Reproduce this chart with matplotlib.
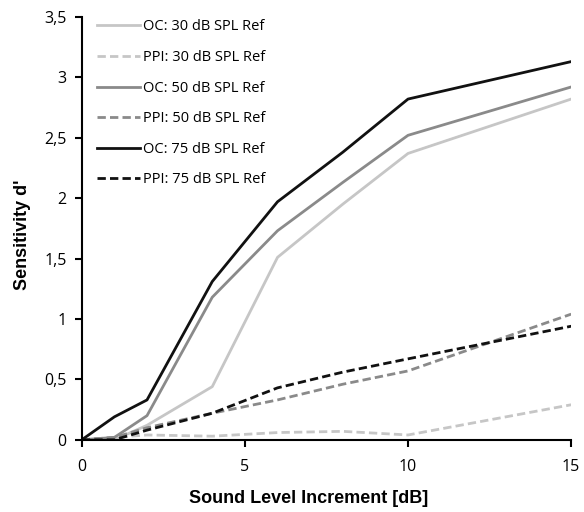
import matplotlib
matplotlib.use("Agg")
import matplotlib.pyplot as plt
from matplotlib.ticker import FuncFormatter

x = [0, 1, 2, 4, 6, 8, 10, 15]
oc30 = [0, 0.0, 0.12, 0.44, 1.51, 1.95, 2.37, 2.82]
ppi30 = [0, 0.02, 0.04, 0.03, 0.06, 0.07, 0.04, 0.29]
oc50 = [0, 0.02, 0.20, 1.18, 1.73, 2.13, 2.52, 2.92]
ppi50 = [0, 0.02, 0.10, 0.22, 0.33, 0.46, 0.57, 1.04]
oc75 = [0, 0.19, 0.33, 1.31, 1.97, 2.38, 2.82, 3.13]
ppi75 = [0, 0.0, 0.08, 0.22, 0.43, 0.56, 0.67, 0.94]

labels = ["OC: 30 dB SPL Ref", "PPI: 30 dB SPL Ref", "OC: 50 dB SPL Ref",
          "PPI: 50 dB SPL Ref", "OC: 75 dB SPL Ref", "PPI: 75 dB SPL Ref"]
xticks = [0, 5, 10, 15]
yticks = [0, 0.5, 1, 1.5, 2, 2.5, 3, 3.5]

light, mid, dark = "#c6c6c6", "#8a8a8a", "#111111"

fig = plt.figure(figsize=(5.84, 5.12), dpi=100)
ax = fig.add_axes([0.140, 0.141, 0.838, 0.826])

series = [(oc30, light, "-"), (ppi30, light, "--"), (oc50, mid, "-"),
          (ppi50, mid, "--"), (oc75, dark, "-"), (ppi75, dark, "--")]
for (ys, c, ls), lab in zip(series, labels):
    ax.plot(x, ys, color=c, linestyle=ls, lw=2.0, label=lab,
            dashes=(3, 1.5) if ls == "--" else (None, None))

ax.set_xlim(0, 15)
ax.set_ylim(0, 3.5)
ax.set_xticks(xticks)
ax.set_yticks(yticks)
fmt = FuncFormatter(lambda v, p: ("%g" % v).replace(".", ","))
ax.yaxis.set_major_formatter(fmt)
ax.xaxis.set_major_formatter(fmt)
for s in ["top", "right"]:
    ax.spines[s].set_visible(False)
for s in ["left", "bottom"]:
    ax.spines[s].set_linewidth(1.5)
ax.tick_params(direction="out", length=5, width=1.5, labelsize=11.5,
               labelfontfamily="Open Sans")
ax.tick_params(axis="x", pad=9)
ax.tick_params(axis="y", pad=6)
ax.set_xlabel("Sound Level Increment [dB]", fontsize=13, fontweight="bold",
              family="Liberation Sans")
ax.xaxis.set_label_coords(0.464, -0.118)
ax.set_ylabel("Sensitivity d'", fontsize=13, fontweight="bold",
              family="Liberation Sans")
ax.yaxis.set_label_coords(-0.104, 0.485)

leg = ax.legend(loc="upper left", bbox_to_anchor=(0.005, 1.025), frameon=False,
                handlelength=2.9, handletextpad=0.25, labelspacing=1.07,
                prop={"family": "Open Sans", "size": 10.5})

fig.savefig("out.png", dpi=100)
